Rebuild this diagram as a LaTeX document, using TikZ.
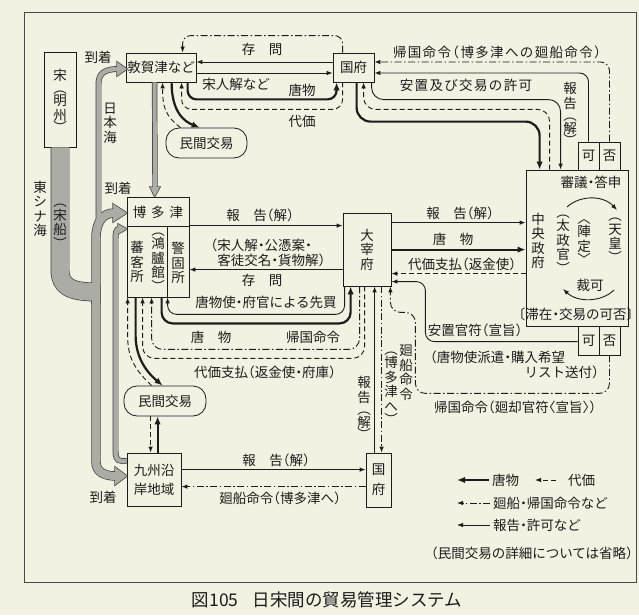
\documentclass[tikz,border=0pt]{standalone}
\usepackage{fontspec}
\setmainfont{Noto Sans CJK JP}[RawFeature=+halt]
\newfontfamily\spacedjp{Noto Sans CJK JP}[RawFeature=+halt,LetterSpace=10]
\usetikzlibrary{arrows.meta,calc}
\definecolor{bg}{RGB}{243,241,225}
\definecolor{ink}{RGB}{28,28,28}
\definecolor{bandc}{RGB}{172,172,166}
\newcommand\myfs{\fontsize{13.5}{15}\selectfont}
\newcommand\myvfs{\fontsize{13.5}{14.5}\selectfont}
\newcommand\mycap{\fontsize{17.5}{20}\selectfont}
\begin{document}
\begin{tikzpicture}[x=1pt,y=-1pt,
  box/.style={draw=ink,line width=0.8pt,inner sep=0pt,font=\myfs,text=ink},
  lbl/.style={inner sep=0pt,font=\myfs,text=ink},
  vt/.style={inner sep=0pt,align=center,font=\myvfs,text=ink},
  ln/.style={draw=ink,line width=0.9pt},
  thk/.style={draw=ink,line width=2.2pt},
  dsh/.style={draw=ink,line width=0.9pt,dash pattern=on 5pt off 3pt},
  ddot/.style={draw=ink,line width=0.9pt,dash pattern=on 7pt off 2.5pt on 1.5pt off 2.5pt},
  tipa/.style={-{Latex[length=6pt,width=4.5pt]}},
  tipb/.style={-{Latex[length=8pt,width=6.5pt]}},
  bandout/.style={draw=ink!85,line width=#1},
  bandin/.style={draw=bandc,line width=#1},
  headout/.style={draw=ink!85,line width=1.4pt,line join=miter},
]
\fill[bg] (0,0) rectangle (639,615);
\useasboundingbox (0,0) rectangle (639,615);
\draw[draw=ink!80,line width=0.9pt] (24,12) rectangle (636,582);

% ---------- nodes ----------
\node[box,minimum width=32pt,minimum height=95pt] (song) at (60,99.5) {};
\node[vt] (songt) at (60,101) {宋\\[-2pt]︵\\[-2pt]明\\州\\[-2pt]︶};
\node[box,minimum width=70pt,minimum height=29pt] (tsuruga) at (161,67.5) {敦賀津など};
\node[box,minimum width=41pt,minimum height=29pt] (kokufuA) at (353.5,67.5) {国府};
\node[box,rounded corners=13pt,minimum width=81pt,minimum height=30pt] (minkanA) at (206.5,143) {民間交易};
\node[box,minimum width=62pt,minimum height=100pt] (hakata) at (158,247) {};
\node[box,minimum width=48pt,minimum height=73pt,align=center,font=\myvfs] (dazaifu) at (367,249.5) {大\\宰\\府};
\node[box,minimum width=102pt,minimum height=156pt] (chuo) at (577,248) {};
\node[box,minimum width=21pt,minimum height=28pt] (kaA) at (588.5,156) {可};
\node[box,minimum width=21pt,minimum height=28pt] (hiA) at (609.5,156) {否};
\node[box,minimum width=21pt,minimum height=29pt] (kaB) at (588.5,340.5) {可};
\node[box,minimum width=21pt,minimum height=29pt] (hiB) at (609.5,340.5) {否};
\node[box,rounded corners=13pt,minimum width=82pt,minimum height=30pt] (minkanB) at (165,401) {民間交易};
\node[box,minimum width=54pt,minimum height=53pt,align=center,font=\fontsize{13.5}{19}\selectfont] (kyushu) at (154,479.5) {九州沿\\岸地域};
\node[box,minimum width=25pt,minimum height=54pt,align=center,font=\fontsize{13.5}{20}\selectfont] (kokufuB) at (378.5,480) {国\\府};

% hakata inner lines and texts
\draw[draw=ink,line width=0.8pt] ($(hakata.north west)+(0,30)$) -- ($(hakata.north east)+(0,30)$);
\draw[draw=ink,line width=0.8pt] ($(hakata.south west)+(41,0)$) -- ($(hakata.north west)+(41,30)$);
\node[lbl] (h1) at (158,212) {博\hspace{5pt}多\hspace{5pt}津};
\node[vt] (h2) at (137,262) {蕃\\客\\所};
\node[vt] (h3) at (158,262) {︵\\[-1pt]鴻\\臚\\館\\[-1pt]︶};
\node[vt] (h4) at (178,263) {警\\固\\所};

% chuo inner texts
\node[lbl] (c1) at (591,182) {審議・答申};
\node[vt] (c2) at (538,241) {中\\央\\政\\府};
\node[vt] (c3) at (563,244) {︵\\[-1pt]太\\政\\官\\[-1pt]︶};
\node[vt] (c4) at (584,242) {︿\\[-1pt]陣\\定\\[-1pt]﹀};
\node[vt] (c5) at (615,240) {︵\\[-1pt]天\\皇\\[-1pt]︶};
\node[lbl] (c6) at (590,285) {裁可};
\node[lbl] (c7) at (576,314) {〔滞在・交易の可否〕};
\draw[ln,tipa] (567,207) .. controls (580,195) and (603,195) .. (617,210);
\draw[ln,tipa] (614,290) .. controls (602,302) and (578,303) .. (563,289);

% ---------- grey bands ----------
% outlines
\draw[bandout=18.9pt] (song.south) -- (60,270) .. controls (60,286) and (70,292) .. (96,292);
\draw[bandout=9.4pt] (96,304) -- (96,238) .. controls (96,222) and (103,213) .. (114,213);
\draw[bandout=9.4pt] (96,284) -- (96,462) .. controls (96,471) and (103,476) .. (116,476);
\draw[bandout=5.9pt] (98.5,226) -- (98.5,84) .. controls (98.5,74) and (104,69) .. (118,69);
\draw[bandout=5.9pt] (kyushu.west |- 0,461) -- (122,461) .. controls (116,461) and (115.5,456) .. (115.5,450) -- (115.5,240) .. controls (115.5,233) and (116,229) .. (119,229);
\draw[bandout=5.4pt] ($(tsuruga.south west)+(29,0)$) -- (155,188);
\draw[headout] (113,204) -- (127,213) -- (113,222) -- cycle;
\draw[headout] (115,467) -- (127,476) -- (115,485) -- cycle;
\draw[headout] (117,62) -- (127,69) -- (117,76) -- cycle;
\draw[headout] (118,224) -- (127,229) -- (118,234) -- cycle;
\draw[headout] (150,187) -- ($(hakata.north west)+(28,0)$) -- (160,187) -- cycle;
% fills
\draw[bandin=17.5pt] (song.south) -- (60,270) .. controls (60,286) and (70,292) .. (96,292);
\draw[bandin=8pt] (96,304) -- (96,238) .. controls (96,222) and (103,213) .. (114,213);
\draw[bandin=8pt] (96,284) -- (96,462) .. controls (96,471) and (103,476) .. (116,476);
\draw[bandin=4.5pt] (98.5,226) -- (98.5,84) .. controls (98.5,74) and (104,69) .. (118,69);
\draw[bandin=4.5pt] (kyushu.west |- 0,461) -- (122,461) .. controls (116,461) and (115.5,456) .. (115.5,450) -- (115.5,240) .. controls (115.5,233) and (116,229) .. (119,229);
\draw[bandin=4pt] ($(tsuruga.south west)+(29,0)$) -- (155,188);
\fill[bandc] (113,204) -- (127,213) -- (113,222) -- cycle;
\fill[bandc] (115,467) -- (127,476) -- (115,485) -- cycle;
\fill[bandc] (117,62) -- (127,69) -- (117,76) -- cycle;
\fill[bandc] (118,224) -- (127,229) -- (118,234) -- cycle;
\fill[bandc] (150,187) -- ($(hakata.north west)+(28,0)$) -- (160,187) -- cycle;

% ---------- connectors: top ----------
\draw[ln,tipa] ($(kokufuA.west)+(0,-5.5)$) -- ($(tsuruga.east)+(0,-5.5)$);
\draw[ln,tipa] ($(tsuruga.east)+(0,5.5)$) -- ($(kokufuA.west)+(0,5.5)$);
\draw[ddot,tipa,rounded corners=8pt] ($(kokufuA.north west)+(10,0)$) |- ($(tsuruga.north west)+(57,-17)$) -- ($(tsuruga.north west)+(57,0)$);
\draw[thk,tipb,rounded corners=9pt] ($(tsuruga.south west)+(62,0)$) |- ($(kokufuA.south west)+(4,17)$) -- ($(kokufuA.south west)+(4,0)$);
\draw[dsh,tipa,rounded corners=10pt] ($(kokufuA.south west)+(10,0)$) |- ($(tsuruga.south west)+(56,27)$) -- ($(tsuruga.south west)+(56,0)$);
\draw[thk,tipb] ($(tsuruga.south west)+(46,0)$) .. controls +(0,30) and +(-15,-6) .. ($(minkanA.north west)+(34,0)$);
\draw[dsh,tipa] ($(minkanA.north west)+(15,0)$) .. controls +(-16,-12) and +(0,24) .. ($(tsuruga.south west)+(37,0)$);
\draw[ddot,tipa,rounded corners=9pt] (hiA.north) |- ($(kokufuA.east)+(0,-5.5)$);
\draw[ln,tipa,rounded corners=9pt] (kaA.north) |- ($(kokufuA.east)+(0,5.5)$);
\draw[ln,tipa,rounded corners=12pt] ($(kokufuA.south west)+(39,0)$) |- ($(chuo.north west)+(35,-70)$) -- ($(chuo.north west)+(35,0)$);
\draw[dsh,tipa,rounded corners=12pt] ($(chuo.north west)+(24,0)$) |- ($(kokufuA.south west)+(31,27)$) -- ($(kokufuA.south west)+(31,0)$);
\draw[thk,tipb,rounded corners=14pt] ($(kokufuA.south west)+(24,0)$) |- ($(chuo.north west)+(14,-48)$) -- ($(chuo.north west)+(14,0)$);

% ---------- connectors: hakata - dazaifu ----------
\draw[ln,tipa] ($(hakata.north east)+(0,29)$) -- ($(dazaifu.north west)+(0,13)$);
\draw[ln,tipa] ($(dazaifu.north west)+(0,57)$) -- ($(hakata.north east)+(0,73)$);
\draw[ln,tipa,rounded corners=9pt] ($(dazaifu.south west)+(2,0)$) |- ($(hakata.south west)+(41,17)$) -- ($(hakata.south west)+(41,0)$);
\draw[thk,tipb,rounded corners=11pt] ($(hakata.south west)+(35,0)$) |- ($(dazaifu.south west)+(8,37)$) -- ($(dazaifu.south west)+(8,0)$);
\draw[ddot,tipa,rounded corners=11pt] ($(dazaifu.south west)+(17,0)$) |- ($(hakata.south west)+(25,52)$) -- ($(hakata.south west)+(25,0)$);
\draw[dsh,tipa,rounded corners=12pt] ($(dazaifu.south west)+(22,0)$) |- ($(hakata.south west)+(16,61)$) -- ($(hakata.south west)+(16,0)$);

% ---------- hakata - minkanB - kyushu ----------
\draw[thk,tipb] ($(hakata.south west)+(9,0)$) -- ++(0,38) .. controls +(0,25) and +(-13,-11) .. ($(minkanB.north west)+(39,0)$);
\draw[dsh,tipa] ($(minkanB.north west)+(28,0)$) .. controls +(-17,-16) and +(0,22) .. ($(hakata.south west)+(1,38)$) -- ($(hakata.south west)+(1,0)$);
\draw[dsh,tipa] ($(minkanB.south west)+(27,0)$) -- ($(kyushu.north west)+(24,0)$);
\draw[thk,tipb] ($(kyushu.north west)+(31,0)$) -- ($(minkanB.south west)+(34,0)$);

% ---------- kyushu - kokufuB - dazaifu ----------
\draw[ln,tipa] ($(kyushu.north east)+(0,17)$) -- ($(kokufuB.north west)+(0,17)$);
\draw[ddot,tipa] ($(kokufuB.north west)+(0,34)$) -- ($(kyushu.north east)+(0,34)$);
\draw[ln,tipa] ($(kokufuB.north west)+(9,0)$) -- ($(dazaifu.south west)+(32,0)$);
\draw[ddot,tipa] ($(dazaifu.south west)+(39,0)$) -- ($(kokufuB.north west)+(16,0)$);

% ---------- dazaifu - chuo ----------
\draw[ln,tipa] ($(dazaifu.north east)+(0,10)$) -- ($(chuo.north west)+(0,53)$);
\draw[thk,tipb] ($(dazaifu.north east)+(0,37)$) -- ($(chuo.north west)+(0,80)$);
\draw[dsh,tipa] ($(chuo.north west)+(0,104)$) -- ($(dazaifu.north east)+(0,61)$);
\draw[ln,tipa,rounded corners=9pt] ($(kaB.north west)+(0,16)$) -- ($(dazaifu.north east)+(34,129)$) -- ($(dazaifu.north east)+(34,69)$) -- ($(dazaifu.north east)+(0,69)$);
\draw[ddot,tipa,rounded corners=10pt] (hiB.south) -- ++(0,38) -| ($(dazaifu.south east)+(24,26)$) -| ($(dazaifu.south east)+(-1,0)$);

% ---------- labels ----------
\node[lbl] (t1) at (98,57) {到着};
\node[lbl] (t2) at (118,188) {到着};
\node[lbl] (t3) at (103,497) {到着};
\node[vt] (t4) at (110,123) {日\\本\\海};
\node[vt] (t5) at (40,209) {東\\シ\\ナ\\海};
\node[vt] (t6) at (60,226) {︵\\[-1pt]宋\\船\\[-1pt]︶};
\node[lbl] (t7) at (262,49) {存　問};
\node[lbl] (t8) at (236,84) {宋人解など};
\node[lbl] (t9) at (302,90) {唐物};
\node[lbl] (t10) at (302,121) {代価};
\node[lbl,font=\spacedjp\myfs] (t11) at (497,52) {帰国命令（博多津への廻船命令）};
\node[lbl,font=\spacedjp\myfs] (t12) at (466,85) {安置及び交易の許可};
\node[vt] (t13) at (570,114) {報\\告\\[-2pt]︵\\[-2pt]解\\[-2pt]︶};
\node[lbl] (t14) at (260,215) {報　告（解）};
\node[lbl,align=left] (t15) at (268,253) {（宋人解・公憑案・\\\hspace*{0.5em}客徒交名・貨物解）};
\node[lbl] (t16) at (262,280) {存　問};
\node[lbl] (t17) at (266,302) {唐物使・府官による先買};
\node[lbl] (t18) at (211,337) {唐　物};
\node[lbl] (t19) at (313,337) {帰国命令};
\node[lbl] (t20) at (265,372) {代価支払（返金使・府庫）};
\node[lbl] (t21) at (460,213) {報　告（解）};
\node[lbl] (t22) at (453,239) {唐　物};
\node[lbl] (t23) at (462,264) {代価支払（返金使）};
\node[lbl] (t24) at (475,330) {安置官符（宣旨）};
\node[lbl,align=left,anchor=west] (t25) at (430,365) {（唐物使派遣・購入希望\\\hspace*{7em}リスト送付）};
\node[lbl] (t26) at (515,407) {帰国命令（廻却官符〈宣旨〉）};
\node[vt] (t27) at (364,408) {報\\告\\[-2pt]︵\\[-2pt]解\\[-2pt]︶};
\node[vt] (t28) at (406,373) {廻\\船\\命\\令};
\node[vt] (t29) at (391,388) {︵\\[-1pt]博\\多\\津\\へ\\[-1pt]︶};
\node[lbl] (t30) at (276,460) {報　告（解）};
\node[lbl] (t31) at (280,498) {廻船命令（博多津へ）};

% ---------- legend ----------
\node[lbl,anchor=west] (g1) at (492,480) {唐物};
\coordinate (g1e) at (457,480);
\draw[thk,tipb] ($(g1.west)+(-3,0)$) -- (g1e);
\node[lbl,anchor=west] (g2) at (568,480) {代価};
\coordinate (g2e) at (535,480);
\draw[dsh,tipa] ($(g2.west)+(-12,0)$) -- (g2e);
\node[lbl,anchor=west] (g3) at (493,503) {廻船・帰国命令など};
\coordinate (g3e) at (457,503);
\draw[ddot,tipa] ($(g3.west)+(-3,0)$) -- (g3e);
\node[lbl,anchor=west] (g4) at (493,525) {報告・許可など};
\coordinate (g4e) at (457,525);
\draw[ln,tipa] ($(g4.west)+(-3,0)$) -- (g4e);
\node[lbl] (g5) at (532,553) {（民間交易の詳細については省略）};

% ---------- caption ----------
\node[inner sep=0pt,font=\mycap,text=ink] (cap) at (327,600) {図105\hspace{0.8em}日宋間の貿易管理システム};
\end{tikzpicture}
\end{document}
